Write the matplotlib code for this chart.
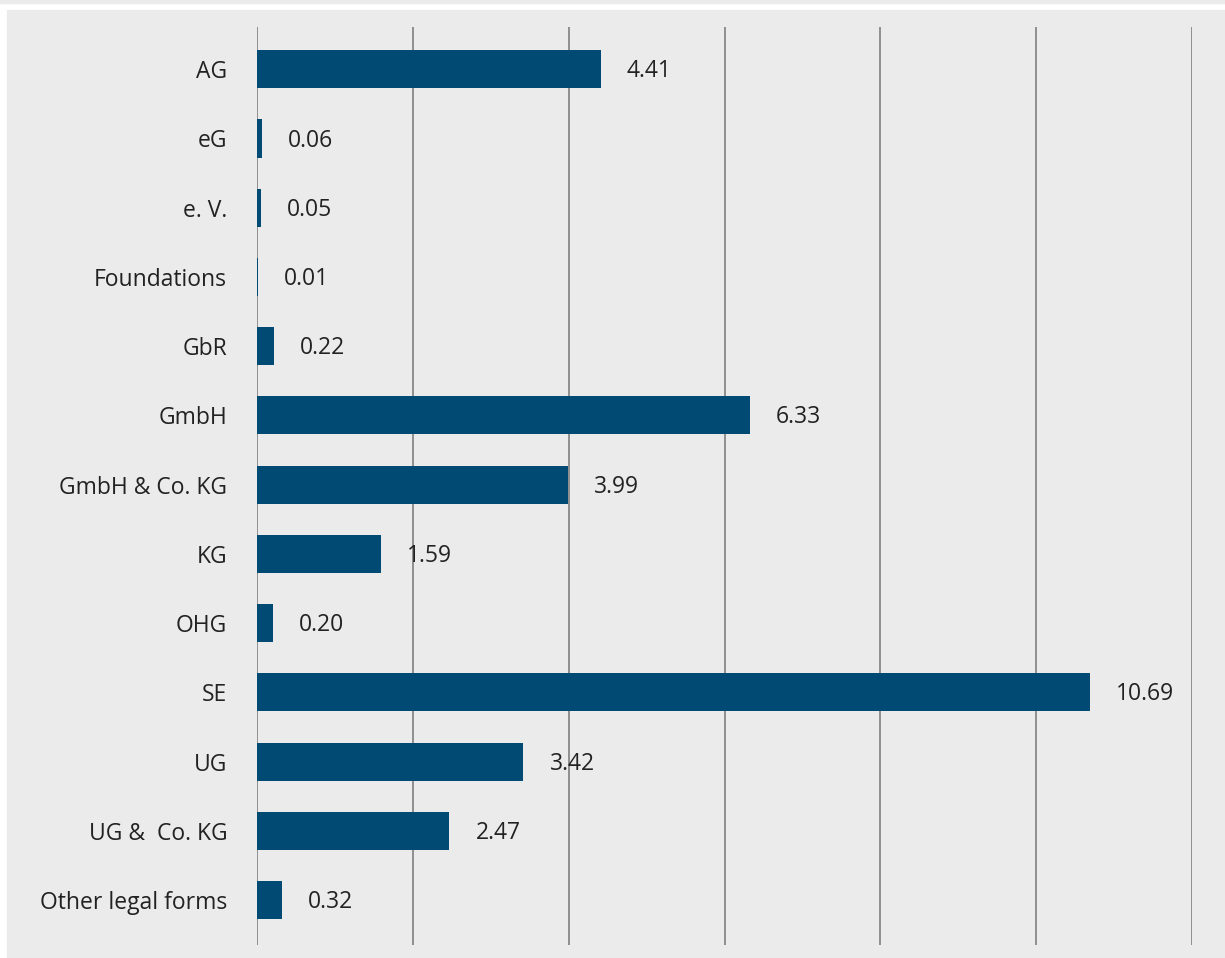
import matplotlib.pyplot as plt
from matplotlib.patches import Rectangle

# Legal forms and their values
legal_forms = ['AG', 'eG', 'e. V.', 'Foundations', 'GbR', 'GmbH', 'GmbH & Co. KG',
               'KG', 'OHG', 'SE', 'UG', 'UG &  Co. KG', 'Other legal forms']
values = [4.41, 0.06, 0.05, 0.01, 0.22, 6.33, 3.99, 1.59, 0.20, 10.69, 3.42, 2.47, 0.32]

bar_color = '#004a74'
panel_color = '#ebebeb'

plt.rcParams['font.family'] = ['Open Sans', 'DejaVu Sans']

W, H = 1225, 958
fig = plt.figure(figsize=(W / 100, H / 100), dpi=100, facecolor='white')

# grey panel behind the chart plus thin strip at the top edge
fig.patches.append(Rectangle((7 / W, 1 / H), 1 - 7 / W, (H - 11) / H,
                             transform=fig.transFigure, color=panel_color, zorder=-10))
fig.patches.append(Rectangle((0, (H - 3) / H), 1, 3 / H,
                             transform=fig.transFigure, color=panel_color, zorder=-10))

ax = fig.add_axes([257 / W, (H - 945) / H, (1192 - 257) / W, (945 - 27) / H])
ax.set_facecolor('none')

pos = list(range(len(legal_forms)))
ax.barh(pos, values, height=0.55, color=bar_color, zorder=2)

for p, v in zip(pos, values):
    ax.text(v + 26 / 77.9, p + 0.03, f'{v:.2f}', va='center', ha='left',
            fontsize=16.5, color='#222222', zorder=3)

ax.set_xlim(0, 12)
ax.set_ylim(len(legal_forms) - 1 + 0.65, -0.61)
ax.set_xticks(range(0, 13, 2))
ax.set_xticklabels([])
ax.tick_params(axis='x', length=0)
ax.grid(axis='x', color='#888888', linewidth=1.3, zorder=1)
ax.set_yticks(pos)
ax.set_yticklabels(legal_forms, fontsize=16.5, color='#222222')
ax.tick_params(axis='y', length=0, pad=21.5)
for s in ax.spines.values():
    s.set_visible(False)

fig.savefig('out.png', dpi=100, facecolor=fig.get_facecolor())
